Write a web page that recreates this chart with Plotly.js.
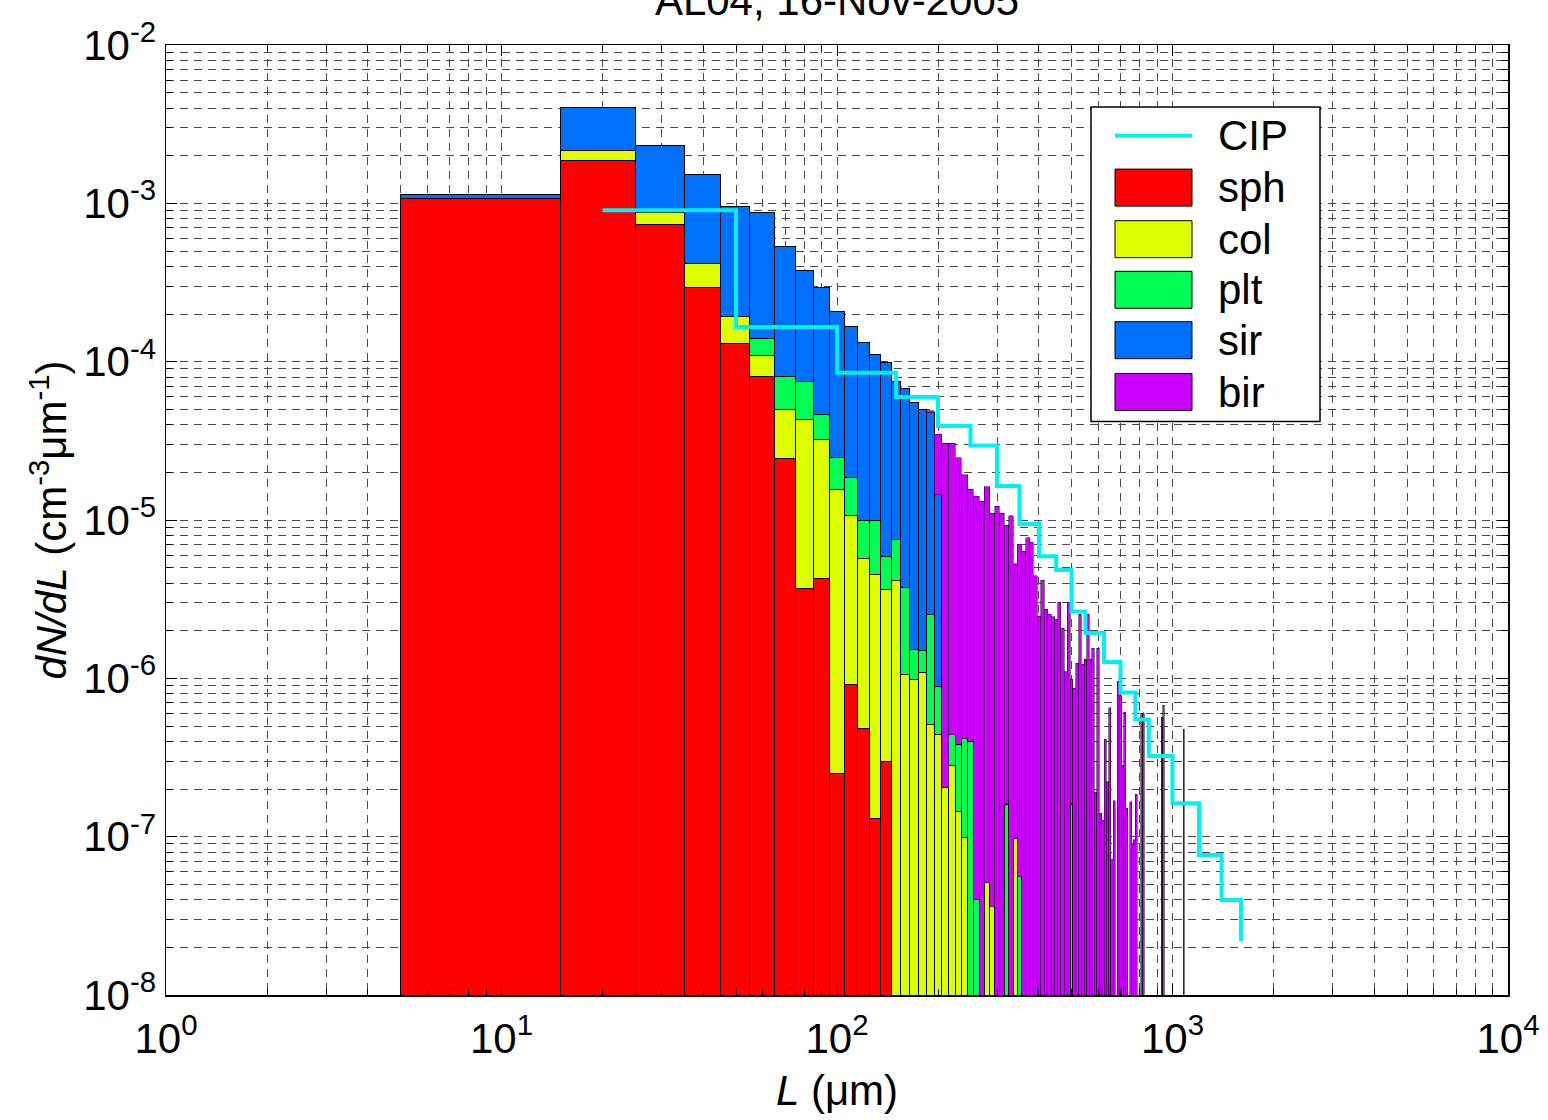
<!DOCTYPE html>
<html>
<head>
<meta charset="utf-8">
<script src="https://cdn.plot.ly/plotly-3.0.1.min.js"></script>
<style>
html,body{margin:0;padding:0;background:#ffffff;}
#chart{width:1548px;height:1120px;}
</style>
</head>
<body>
<div id="chart"></div>
<script>
// ---------------- data ----------------
// particle size bin centres (um) for each habit, bins are 10 um wide
const sphL = [10,20,30,40,50,60,70,80,90,100,110,120,130,140];
const sph  = [1.07e-3,1.87e-3,7.3e-4,2.95e-4,1.31e-4,8.1e-5,2.46e-5,3.7e-6,4.3e-6,2.5e-7,9.2e-7,4.8e-7,1.3e-7,3.0e-7];

const colL = [20,30,40,50,60,70,80,90,100,110,120,130,140,150,160,170,180,190,200,210,220,230,240,280,290,340];
const col  = [2.9e-4,1.43e-4,1.23e-4,6.2e-5,2.9e-5,2.5e-5,3.95e-5,2.8e-5,1.54e-5,9.7e-6,5.2e-6,4.37e-6,3.33e-6,4.17e-6,1.06e-6,9.9e-7,1.09e-6,5.1e-7,4.4e-7,2.05e-7,2.8e-7,1.44e-7,9.9e-8,5.1e-8,3.6e-8,9.8e-8];

const pltL = [60,70,80,90,100,110,120,130,140,150,160,170,180,190,200,220,230,240,250,260,320,350,500];
const plt  = [3.0e-5,3.08e-5,3.15e-5,1.4e-5,9.0e-6,8.0e-6,4.2e-6,5.45e-6,2.27e-6,3.31e-6,2.68e-6,5.3e-7,4.2e-7,2.02e-6,4.5e-7,1.6e-7,2.4e-7,3.2e-7,4.0e-7,4.0e-8,1.6e-7,5.6e-8,1.6e-7];

const sirL = [10,20,30,40,50,60,70,80,90,100,110,120,130,140,150,160,170,180,190,200];
const sir  = [7.3e-5,1.89e-3,1.45e-3,1.11e-3,7.69e-4,7.33e-4,4.52e-4,3.0e-4,2.49e-4,1.83e-4,1.49e-4,1.22e-4,1.01e-4,9.36e-5,6.8e-5,6.42e-5,5.36e-5,4.87e-5,4.52e-5,1.36e-5];

const birL = [190,200,210,220,230,240,250,260,270,280,290,300,310,320,330,340,350,360,370,380,390,400,
              410,420,430,440,450,460,470,480,490,500,510,520,530,540,550,560,570,580,590,600,
              610,620,630,640,650,660,670,690,700,710,720,730,750,760,770,780,810,820,930,940,1080];
const bir  = [1.3e-6,2.04e-5,3.03e-5,3.0e-5,2.43e-5,1.885e-5,1.52e-5,1.405e-5,1.315e-5,1.617e-5,1.10e-5,1.22e-5,1.10e-5,9.11e-6,1.064e-5,5.21e-6,6.97e-6,6.34e-6,7.75e-6,7.26e-6,4.46e-6,2.47e-6,
              4.17e-6,2.74e-6,2.54e-6,2.45e-6,2.36e-6,3.02e-6,2.07e-6,1.10e-6,3.02e-6,8.27e-7,8.65e-7,1.245e-6,2.54e-6,1.23e-6,1.32e-6,2.54e-6,1.32e-6,1.554e-6,1.905e-7,1.554e-6,
              1.404e-7,1.274e-7,4.12e-7,2.22e-7,6.52e-7,7.19e-8,1.68e-7,9.62e-7,7.76e-7,2.835e-7,6.1e-7,1.51e-7,1.66e-7,8.95e-8,9.53e-8,1.85e-7,6.02e-7,6.07e-7,5.68e-7,6.78e-7,4.77e-7];

// CIP probe size distribution (stairs)
const cipL = [20,50,100,150,200,250,300,350,400,450,500,550,625,700,775,850,1000,1200,1400,1600];
const cip  = [9.03e-4,1.656e-4,8.51e-5,5.98e-5,3.93e-5,2.955e-5,1.64e-5,9.44e-6,5.9e-6,4.83e-6,2.64e-6,1.93e-6,1.268e-6,8.14e-7,5.5e-7,3.23e-7,1.626e-7,7.66e-8,3.98e-8,2.19e-8];

const seriesNames = ['sph','col','plt','sir','bir'];
const legendNames = ['CIP','sph','col','plt','sir','bir'];

const xTickVals = [1,10,100,1000,10000];
const xTickText = ['10<sup>0</sup>','10<sup>1</sup>','10<sup>2</sup>','10<sup>3</sup>','10<sup>4</sup>'];
const yTickVals = [1e-8,1e-7,1e-6,1e-5,1e-4,1e-3,1e-2];
const yTickText = ['10<sup>-8</sup>','10<sup>-7</sup>','10<sup>-6</sup>','10<sup>-5</sup>','10<sup>-4</sup>','10<sup>-3</sup>','10<sup>-2</sup>'];

const titleText = 'AL04, 16-Nov-2005';

// ---------------- styling ----------------
const colors = {sph:'#FF0000', col:'#DDFF00', plt:'#00FF55', sir:'#0070FF', bir:'#CC00FF', CIP:'#00F0F5'};
const edgeWidth = {sph:1, col:1, plt:1, sir:1, bir:0.5};
const FONT = 'Liberation Sans, Arial, Helvetica, sans-serif';
const BIN_WIDTH = 10;

const seriesData = {sph:[sphL,sph], col:[colL,col], plt:[pltL,plt], sir:[sirL,sir], bir:[birL,bir]};

const traces = seriesNames.map(n => ({
  type:'bar', name:n, x:seriesData[n][0], y:seriesData[n][1],
  width:BIN_WIDTH,
  marker:{color:colors[n], line:{color:'#000000', width:edgeWidth[n]}},
  showlegend:false, hoverinfo:'x+y+name'
}));
traces.push({
  type:'scatter', mode:'lines', name:'CIP', x:cipL, y:cip,
  line:{shape:'hv', color:colors.CIP, width:4},
  showlegend:false
});

// minor tick positions (2..9 of every decade)
function minorVals(d0, d1){
  const v=[];
  for(let d=d0; d<d1; d++){ for(let m=2; m<=9; m++){ v.push(m*Math.pow(10,d)); } }
  return v;
}
const gridStyle = {showgrid:true, gridcolor:'#4a4a4a', gridwidth:1, griddash:'8px,6px'};

function axisBase(){
  return Object.assign({
    type:'log', showline:true, linecolor:'#000', linewidth:1.5, mirror:'ticks',
    ticks:'inside', ticklen:11, tickwidth:1, tickcolor:'#000',
    tickmode:'array', zeroline:false,
    tickfont:{family:FONT, size:42, color:'#000'}
  }, gridStyle);
}

const xaxis = Object.assign(axisBase(), {
  range:[0,4], tickvals:xTickVals, ticktext:xTickText, ticklabelstandoff:6,
  minor:Object.assign({tickmode:'array', tickvals:minorVals(0,4), ticks:'inside', ticklen:6, tickcolor:'#000', tickwidth:1}, gridStyle),
  title:{text:'<i>L</i> (μm)', font:{family:FONT, size:42, color:'#000'}, standoff:14}
});
const yaxis = Object.assign(axisBase(), {
  range:[-8,-2], tickvals:yTickVals, ticktext:yTickText,
  minor:Object.assign({tickmode:'array', tickvals:minorVals(-8,-2), ticks:'inside', ticklen:6, tickcolor:'#000', tickwidth:1}, gridStyle),
  title:{text:'<i>dN/dL</i> (cm<sup>-3</sup>μm<sup>-1</sup>)', font:{family:FONT, size:42, color:'#000'}, standoff:3}
});

// ---------------- custom legend (box, swatches, labels) ----------------
const PL = 166, PR = 1508, PT = 45, PB = 995;
const px2x = p => (p-PL)/(PR-PL);
const px2y = p => (PB-p)/(PB-PT);

const shapes = [];
const annotations = [];
shapes.push({type:'rect', xref:'paper', yref:'paper', x0:px2x(1091), x1:px2x(1320), y0:px2y(421.5), y1:px2y(107),
  fillcolor:'#ffffff', line:{color:'#000', width:1.5}, layer:'above'});
const rowCenters = [135.7, 187.6, 239.2, 289.8, 340.2, 392];
legendNames.forEach((n,i) => {
  const cy = rowCenters[i];
  if(n === 'CIP'){
    shapes.push({type:'line', xref:'paper', yref:'paper', x0:px2x(1115), x1:px2x(1192), y0:px2y(cy), y1:px2y(cy),
      line:{color:colors.CIP, width:4}, layer:'above'});
  } else {
    shapes.push({type:'rect', xref:'paper', yref:'paper', x0:px2x(1115), x1:px2x(1192), y0:px2y(cy+18.5), y1:px2y(cy-18.5),
      fillcolor:colors[n], line:{color:'#000', width:1}, layer:'above'});
  }
  annotations.push({xref:'paper', yref:'paper', x:px2x(1216), y:px2y(cy), xanchor:'left', yanchor:'middle',
    text:n, showarrow:false, font:{family:FONT, size:42, color:'#000'}});
});

const layout = {
  width:1548, height:1120,
  margin:{l:PL, r:1548-PR, t:PT, b:1120-PB, pad:0},
  paper_bgcolor:'#ffffff', plot_bgcolor:'#ffffff',
  barmode:'stack',
  font:{family:FONT, color:'#000'},
  title:{text:titleText, font:{family:FONT, size:42, color:'#000'}, xref:'paper', x:0.5, xanchor:'center', yref:'container', y:1, yanchor:'middle'},
  xaxis:xaxis, yaxis:yaxis,
  shapes:shapes, annotations:annotations,
  showlegend:false
};

Plotly.newPlot('chart', traces, layout, {displayModeBar:false, staticPlot:true});
</script>
</body>
</html>
